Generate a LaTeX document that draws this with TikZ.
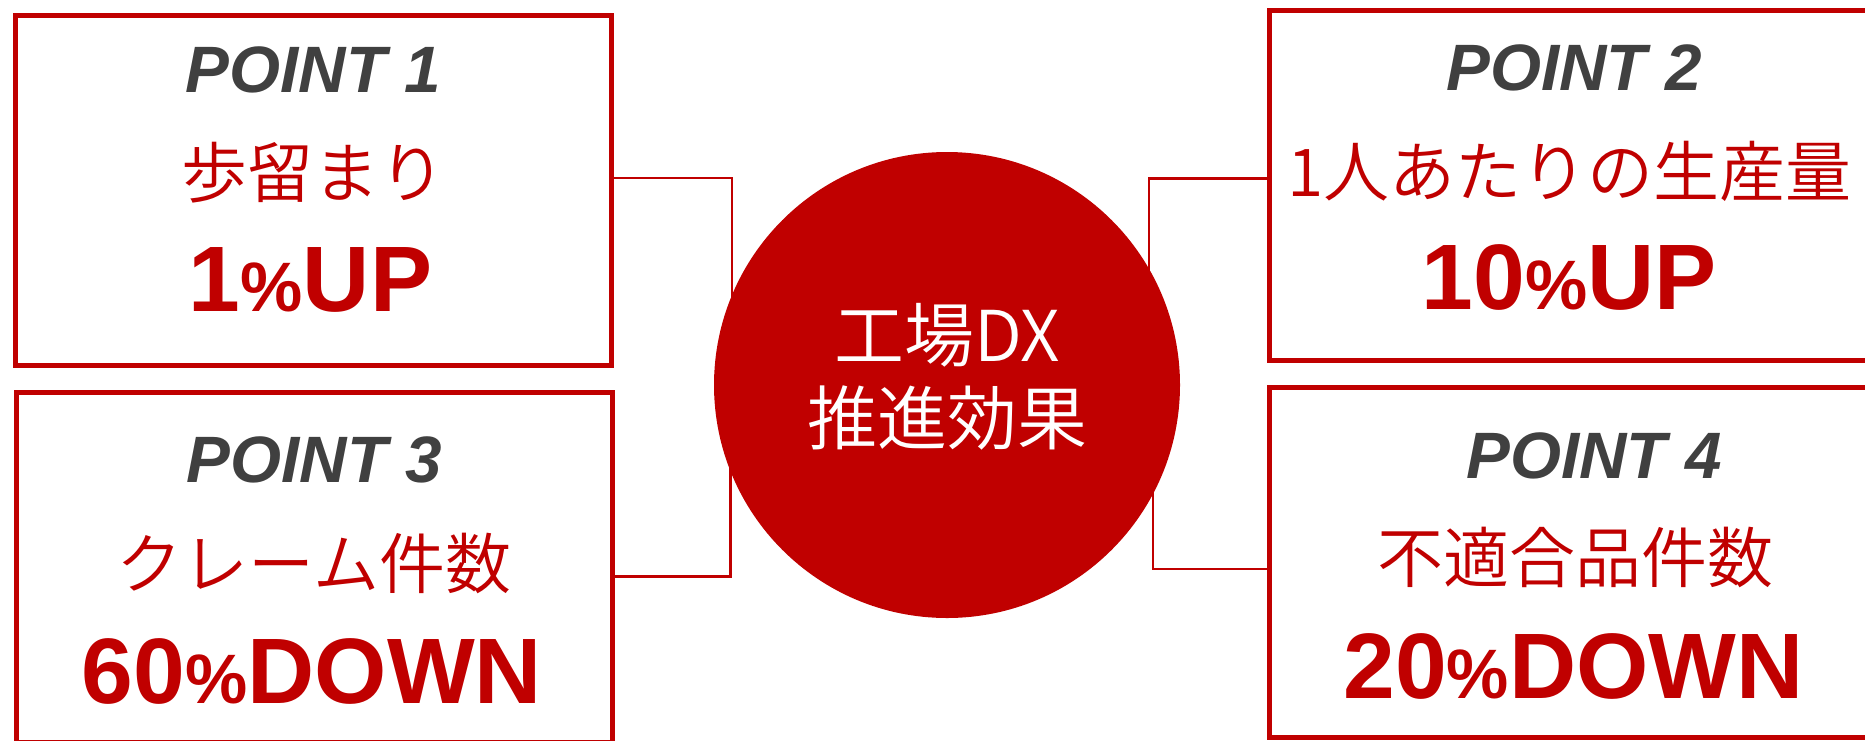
\documentclass[tikz,border=0pt]{standalone}
\usepackage{fontspec}
\setmainfont{Liberation Sans}
\newfontfamily\jpfont{Noto Sans CJK JP}[UprightFont={* DemiLight}]
\usepackage{xcolor}
\usepackage{tikz}
\usetikzlibrary{shapes,positioning}

\definecolor{dxred}{HTML}{C00000}
\definecolor{dxgray}{HTML}{404040}
\newcommand{\pct}{{\fontsize{35pt}{35pt}\selectfont\%}}

\begin{document}
\begin{tikzpicture}[
    x=0.5pt, y=-0.5pt,
    pointbox/.style={rectangle, draw=dxred, line width=2.5pt, minimum width=298pt, minimum height=175pt, inner sep=0pt},
    link/.style={draw=dxred, line width=1.4pt},
    hub/.style={circle, fill=dxred, minimum size=233pt, inner sep=0pt},
    hubtext/.style={text=white, align=center, inner sep=0pt, font=\jpfont\fontsize{35pt}{41.5pt}\selectfont},
    ptitle/.style={anchor=base, inner sep=0pt, text=dxgray, font=\bfseries\itshape\fontsize{32.8pt}{32.8pt}\selectfont},
    pitem/.style={inner sep=0pt, text=dxred, font=\jpfont\fontsize{33pt}{33pt}\selectfont},
    pvalue/.style={anchor=base, inner sep=0pt, text=dxred, font=\bfseries\fontsize{46.5pt}{46.5pt}\selectfont}
]
    \useasboundingbox (0,0) rectangle (1865,740);
    \clip (0,0) rectangle (1865,740);

    % boxes
    \node[pointbox] (p1) at (313.3,190.8) {};
    \node[pointbox, minimum width=301pt] (p2) at (1570,185.8) {};
    \node[pointbox] (p3) at (314.8,567.5) {};
    \node[pointbox, minimum width=301pt] (p4) at (1570,562.5) {};

    % elbow links, ends hidden under the circle
    \coordinate (k1) at (732,385);
    \coordinate (k2) at (1149,385);
    \coordinate (k3) at (730.5,385);
    \coordinate (k4) at (1153,385);
    \draw[link] ([yshift=6.4pt]p1.east) -| (k1);
    \draw[link] ([yshift=3.75pt]p2.west) -| (k2);
    \draw[link] ([yshift=-4.6pt]p3.east) -| (k3);
    \draw[link] ([yshift=-3.25pt]p4.west) -| (k4);

    \node[hub] (dx) at (947,385) {};
    \node[hubtext] (dxlabel) at (947,376.5) {工場DX\\推進効果};

    \node[ptitle] (t1) at (313.5,92.7) {POINT 1};
    \node[pitem] (i1) at (313,173) {歩留まり};
    \node[pvalue] (v1) at (310.5,311.7) {1\pct UP};

    \node[ptitle] (t2) at (1574,90.7) {POINT 2};
    \node[pitem] (i2) at (1569.5,171) {1人あたりの生産量};
    \node[pvalue] (v2) at (1569,309) {10\pct UP};

    \node[ptitle] (t3) at (314.5,482.3) {POINT 3};
    \node[pitem] (i3) at (314,563.5) {クレーム件数};
    \node[pvalue] (v3) at (312,703.3) {60\pct DOWN};

    \node[ptitle] (t4) at (1594,478.3) {POINT 4};
    \node[pitem] (i4) at (1575.5,557.5) {不適合品件数};
    \node[pvalue] (v4) at (1573.6,698.3) {20\pct DOWN};
\end{tikzpicture}
\end{document}
